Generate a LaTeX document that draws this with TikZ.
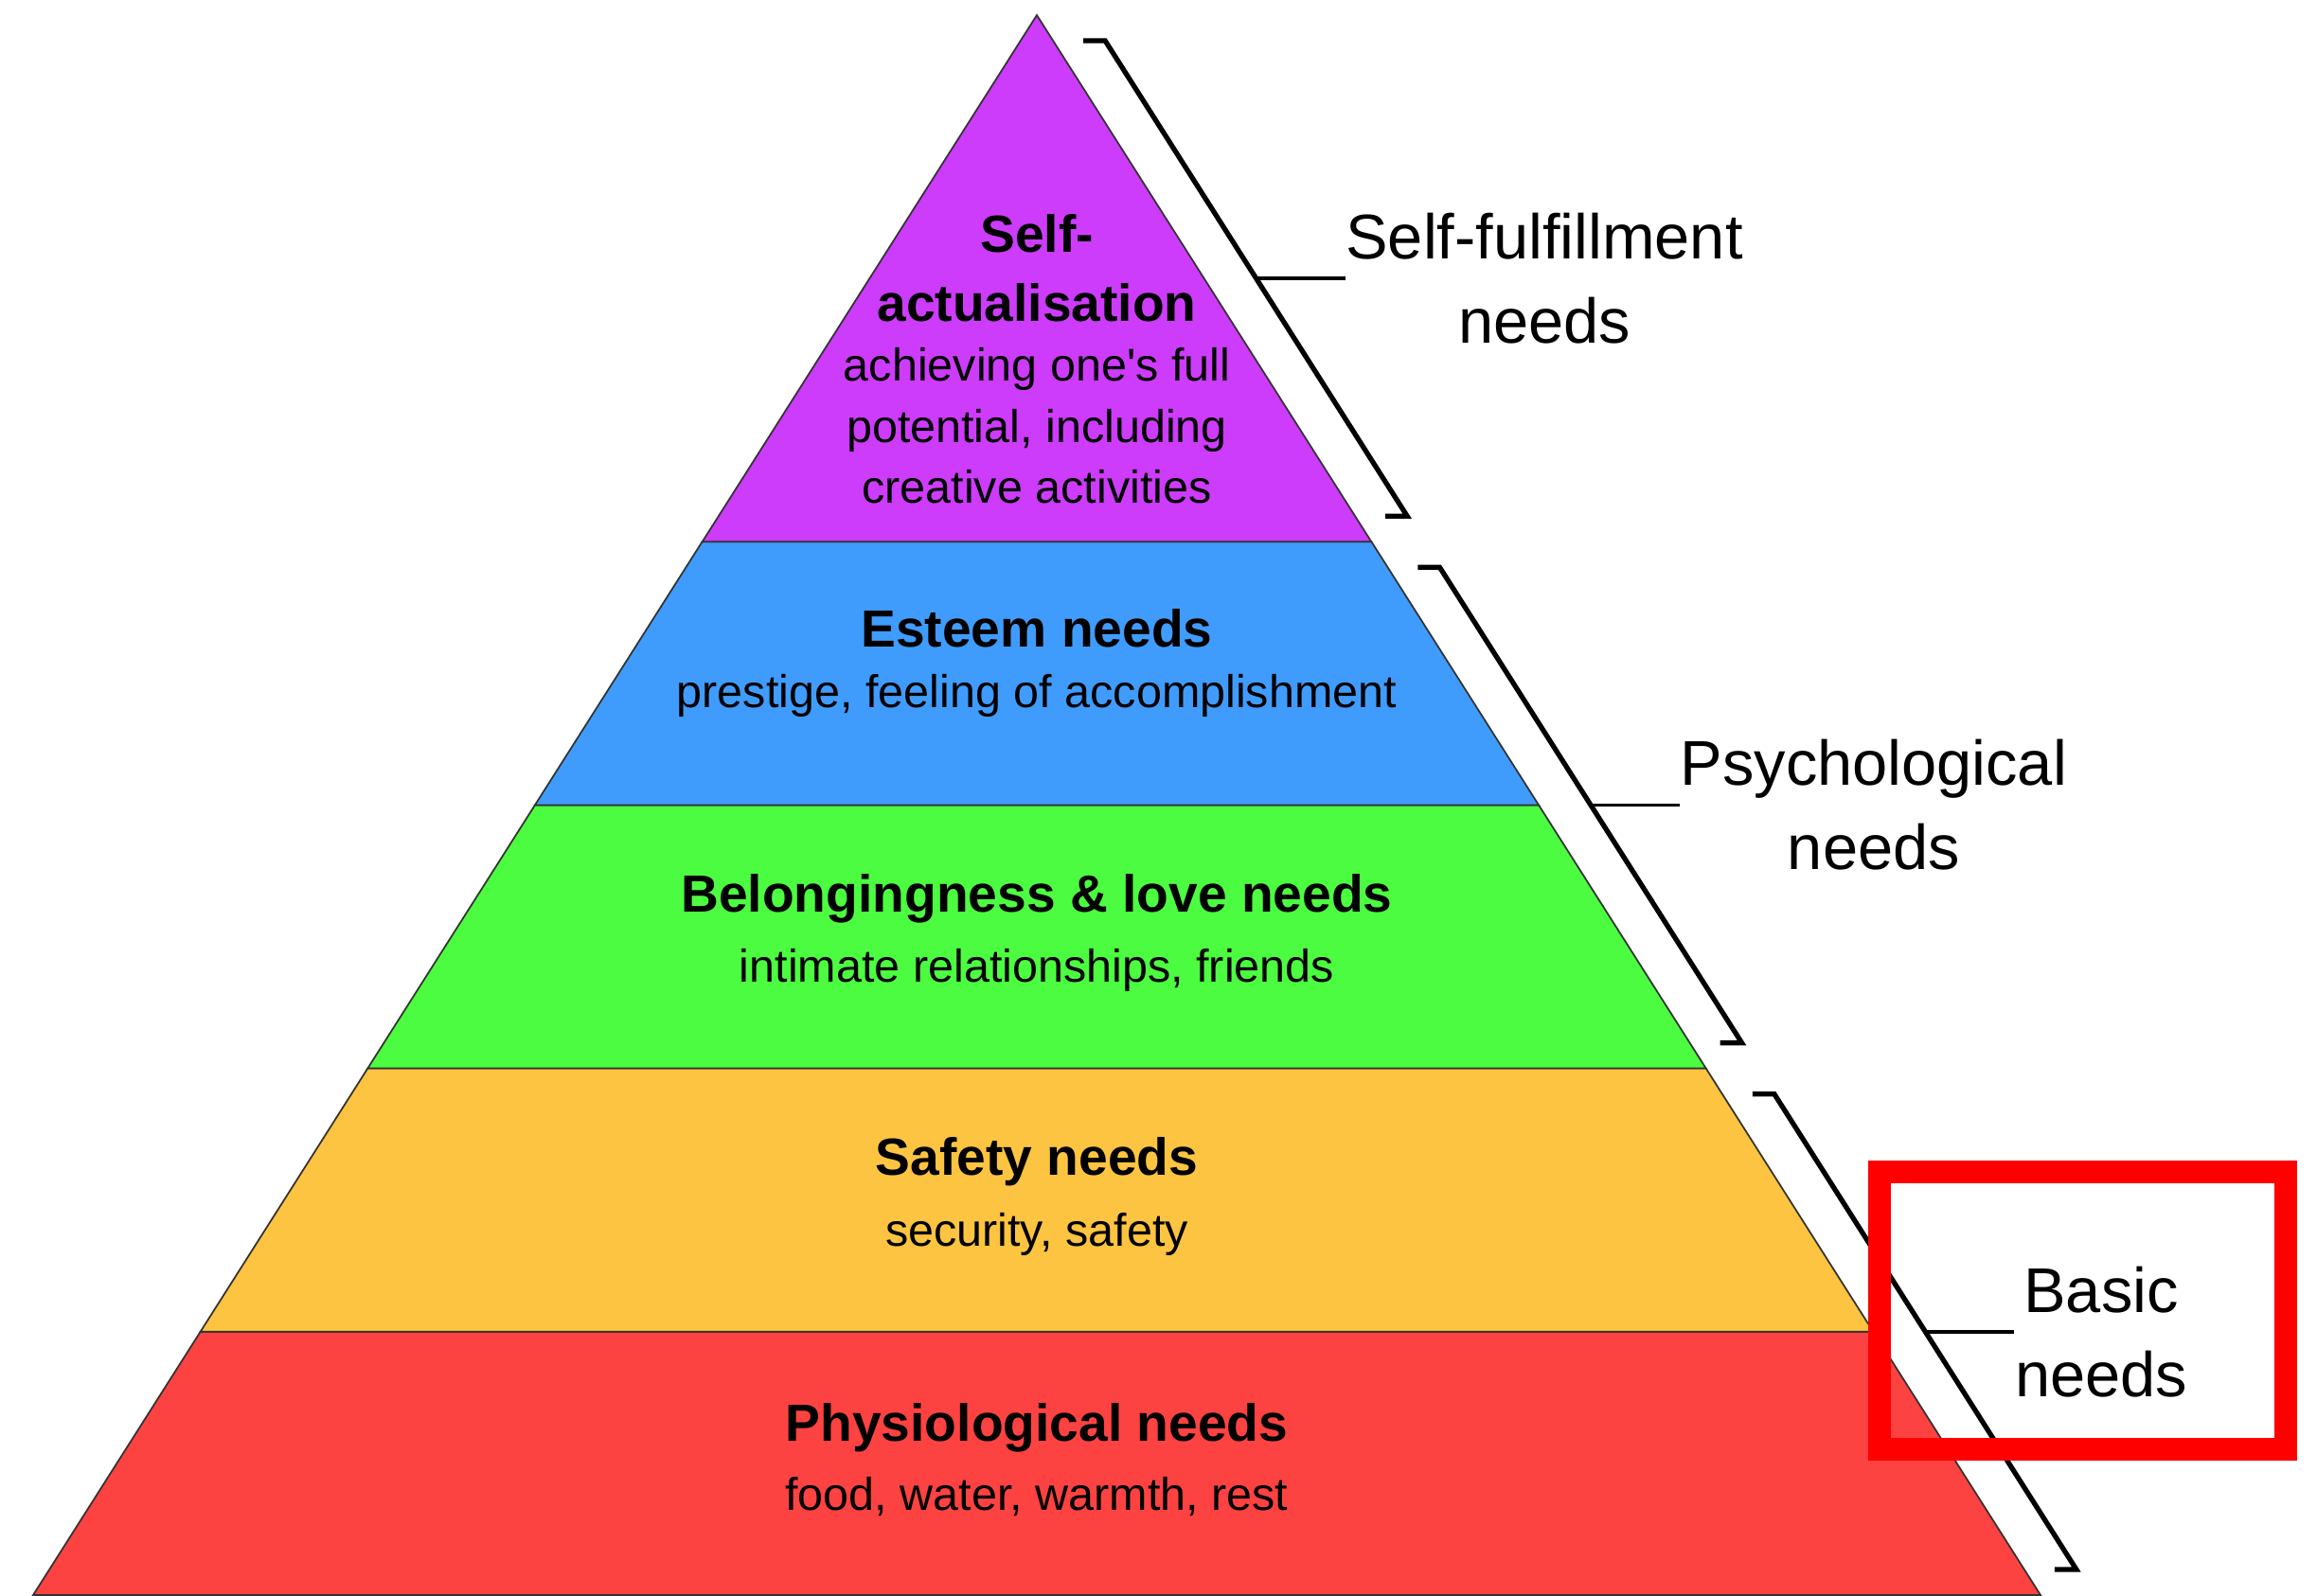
\documentclass[tikz,border=0pt]{standalone}
\usepackage{fontspec}
\setmainfont{Liberation Sans}[Ligatures=TeXOff]
\usetikzlibrary{calc}
\definecolor{physio}{RGB}{253,66,66}
\definecolor{safety}{RGB}{252,196,64}
\definecolor{love}{RGB}{76,252,64}
\definecolor{esteem}{RGB}{64,156,252}
\definecolor{selfact}{RGB}{204,60,250}
\begin{document}
\begin{tikzpicture}[
	layer/.style={draw=black!80, line width=0.5pt},
	title/.style={font=\bfseries\fontsize{15.7}{20}\selectfont, anchor=base, inner sep=0},
	desc/.style={font=\fontsize{13.8}{18}\selectfont, anchor=base, inner sep=0},
	needlabel/.style={font=\fontsize{19}{25.3}\selectfont, align=center, anchor=west, inner sep=0},
	bracket/.style={line width=1.5pt},
	tick/.style={line width=1.1pt},
	highlight/.style={draw=red, line width=0.24cm}]
	\useasboundingbox (0,0) rectangle (24.47,16.85);

	%pyramid layers
	\foreach \k/\col in {0/physio, 1/safety, 2/love, 3/esteem}{
		\filldraw[layer, fill=\col] ({10.95-10.6*(1-\k/6)}, {\k*2.782}) -- ({10.95+10.6*(1-\k/6)}, {\k*2.782})
			-- ({10.95+10.6*(1-(\k+1)/6)}, {(\k+1)*2.782}) -- ({10.95-10.6*(1-(\k+1)/6)}, {(\k+1)*2.782}) -- cycle;
	}
	\filldraw[layer, fill=selfact] (7.417, 11.127) -- (14.483, 11.127) -- (10.95, 16.69) -- cycle;

	%layer texts
	\node[title] (sa1) at (10.95, 14.18) {Self-};
	\node[title] (sa2) at (10.95, 13.45) {actualisation};
	\foreach \y/\t [count=\i] in {12.82/{achieving one's full}, 12.17/{potential, including}, 11.53/{creative activities}}{
		\node[desc] (sadesc\i) at (10.95, \y) {\t};
	}
	\node[title] (est) at (10.95, 10.01) {Esteem needs};
	\node[desc] (estdesc) at (10.95, 9.37) {prestige, feeling of accomplishment};
	\node[title] (love) at (10.95, 7.21) {Belongingness \& love needs};
	\node[desc] (lovedesc) at (10.95, 6.47) {intimate relationships, friends};
	\node[title] (safe) at (10.95, 4.43) {Safety needs};
	\node[desc] (safedesc) at (10.95, 3.68) {security, safety};
	\node[title] (phys) at (10.95, 1.63) {Physiological needs};
	\node[desc] (physdesc) at (10.95, 0.90) {food, water, warmth, rest};

	%brackets
	\foreach \n/\lo/\hi in {1/11.127/16.69, 2/5.563/11.127, 3/0/5.563}{
		\coordinate (top\n) at ({11.5+10.6*(1-(\hi-0.27)/16.69)}, {\hi-0.27});
		\coordinate (bot\n) at ({11.5+10.6*(1-(\lo+0.27)/16.69)}, {\lo+0.27});
		\coordinate (mid\n) at ($(top\n)!0.5!(bot\n)$);
		\draw[bracket] ($(top\n)+(-0.23,0)$) -- (top\n) -- (bot\n) -- ($(bot\n)+(-0.23,0)$);
	}
	\node[needlabel] (fulfil) at ($(mid1)+(0.94,0)$) {Self-fulfillment\\needs};
	\node[needlabel] (psych) at ($(mid2)+(0.94,0)$) {Psychological\\needs};
	\node[needlabel] (basic) at ($(mid3)+(0.94,0)$) {Basic\\needs};
	\draw[tick] (mid1) -- (fulfil.west);
	\draw[tick] (mid2) -- (psych.west);
	\draw[tick] (mid3) -- (basic.west);

	\draw[highlight] (19.85, 1.54) rectangle (24.14, 4.47);
\end{tikzpicture}
\end{document}
